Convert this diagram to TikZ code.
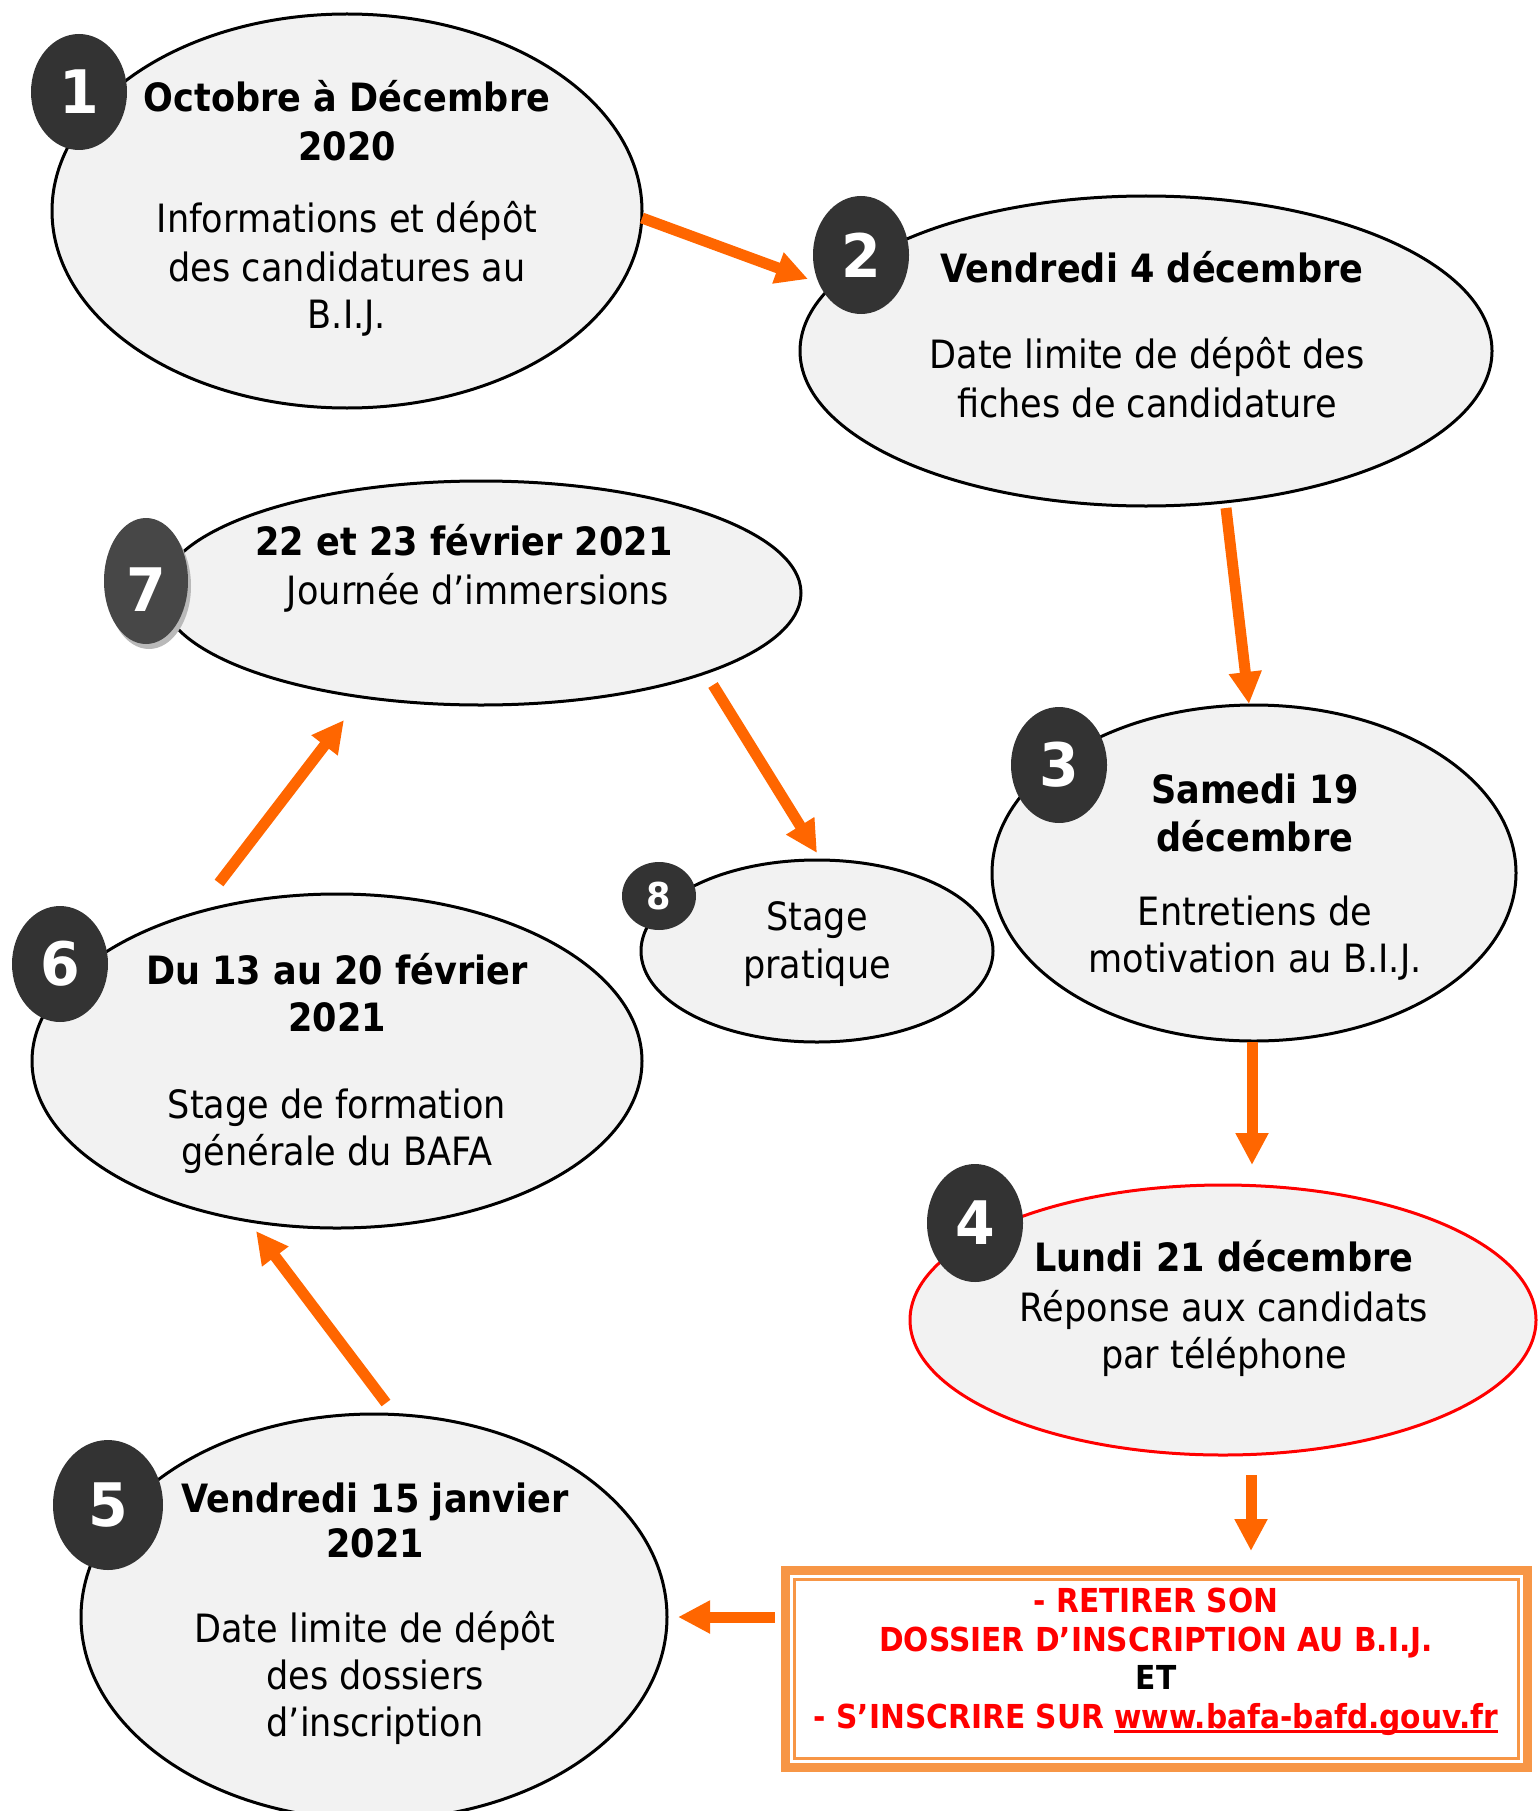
\documentclass[tikz,border=0pt]{standalone}
\usepackage{fontspec}
\setmainfont{DejaVu Sans}[FakeStretch=0.9]
\newfontfamily\digitfont{DejaVu Sans}[FakeStretch=0.95]
\usetikzlibrary{shapes.geometric,arrows.meta}
\definecolor{ellfill}{HTML}{F2F2F2}
\definecolor{badgegray}{HTML}{333333}
\definecolor{arrorange}{HTML}{FF6600}
\definecolor{boxorange}{HTML}{F79646}
\definecolor{txtred}{HTML}{FF0000}
\newcommand\bafaul[1]{\setbox0=\hbox{#1}\rlap{\rule[-5pt]{\wd0}{3pt}}\box0}
\begin{document}
\begin{tikzpicture}[x=1pt,y=-1pt,
  ell/.style={ellipse,draw=black,line width=3pt,fill=ellfill,inner sep=0pt},
  bdg/.style={ellipse,fill=badgegray,inner sep=0pt,text=white,font=\digitfont\bfseries\fontsize{60}{60}\selectfont},
  ttl/.style={anchor=base,inner sep=0pt,font=\bfseries\fontsize{39}{48}\selectfont},
  bdy/.style={anchor=base,inner sep=0pt,font=\fontsize{39}{48}\selectfont},
  boxt/.style={anchor=base,inner sep=0pt,text=txtred,font=\bfseries\fontsize{33}{39}\selectfont},
  arr/.style={draw=arrorange,line width=11pt,-{Triangle[width=31pt,length=32pt]}}
]
\useasboundingbox (0,0) rectangle (1538,1811);
\fill[white] (0,0) rectangle (1538,1811);

% ellipses
\node[ell,minimum width=590pt,minimum height=394pt] (e1) at (347,211) {};
\node[ell,minimum width=692pt,minimum height=310pt] (e2) at (1146,351) {};
\node[ell,minimum width=640pt,minimum height=224pt] (e7) at (481,593) {};
\node[ell,minimum width=524pt,minimum height=336pt] (e3) at (1254,873) {};
\node[ell,minimum width=352pt,minimum height=182pt] (e8) at (817,951) {};
\node[ell,minimum width=610pt,minimum height=334pt] (e6) at (337,1061) {};
\node[ell,draw=txtred,minimum width=626pt,minimum height=270pt] (e4) at (1223,1320) {};
\node[ell,minimum width=586pt,minimum height=406pt] (e5) at (374,1617) {};

% badges
\node[bdg,minimum width=96pt,minimum height=116pt] (b1) at (79,92) {1};
\node[bdg,minimum width=96pt,minimum height=118pt] (b2) at (861,255) {2};
\node[bdg,minimum width=96pt,minimum height=116pt] (b3) at (1059,765) {3};
\node[bdg,minimum width=96pt,minimum height=118pt] (b4) at (975,1223) {4};
\node[bdg,minimum width=110pt,minimum height=130pt] (b5) at (108,1505) {5};
\node[bdg,minimum width=96pt,minimum height=116pt] (b6) at (60,964) {6};
\node[ellipse,fill=gray!55,inner sep=0pt,minimum width=84pt,minimum height=126pt] (b7s) at (149,586) {};
\node[bdg,fill=badgegray!90!white,minimum width=84pt,minimum height=126pt] (b7) at (146,581) {\raisebox{-9pt}[\height][0pt]{7}};
\node[bdg,minimum width=74pt,minimum height=68pt,font=\digitfont\bfseries\fontsize{37}{37}\selectfont] (b8) at (659,896) {8};

% texts
\node[ttl] (t1a) at (347,112) {Octobre à Décembre};
\node[ttl] (t1b) at (347,161) {2020};
\node[bdy] (t1c) at (347,233) {Informations et dépôt};
\node[bdy] (t1d) at (347,281) {des candidatures au};
\node[bdy] (t1e) at (347,328) {B.I.J.};

\node[ttl] (t2a) at (1152,283) {Vendredi 4 décembre};
\node[bdy] (t2b) at (1147,368) {Date limite de dépôt des};
\node[bdy] (t2c) at (1147,417) {fiches de candidature};

\node[ttl] (t7a) at (464,555) {22 et 23 février 2021};
\node[bdy] (t7b) at (478,604) {Journée d’immersions};

\node[ttl] (t3a) at (1255,803) {Samedi 19};
\node[ttl] (t3b) at (1255,851) {décembre};
\node[bdy] (t3c) at (1255,925) {Entretiens de};
\node[bdy] (t3d) at (1255,972) {motivation au B.I.J.};

\node[bdy] (t8a) at (817,930) {Stage};
\node[bdy] (t8b) at (817,978) {pratique};

\node[ttl] (t6a) at (337,984) {Du 13 au 20 février};
\node[ttl] (t6b) at (337,1031) {2021};
\node[bdy] (t6c) at (337,1118) {Stage de formation};
\node[bdy] (t6d) at (337,1165) {générale du BAFA};

\node[ttl] (t4a) at (1224,1271) {Lundi 21 décembre};
\node[bdy] (t4b) at (1224,1321) {Réponse aux candidats};
\node[bdy] (t4c) at (1224,1368) {par téléphone};

\node[ttl] (t5a) at (375,1512) {Vendredi 15 janvier};
\node[ttl] (t5b) at (375,1557) {2021};
\node[bdy] (t5c) at (375,1642) {Date limite de dépôt};
\node[bdy] (t5d) at (375,1689) {des dossiers};
\node[bdy] (t5e) at (375,1736) {d’inscription};

% box
\node[draw=boxorange,line width=9pt,fill=white,minimum width=742pt,minimum height=197pt,inner sep=0pt] (box) at (1156.5,1669) {};
\node[draw=boxorange,line width=3pt,minimum width=724pt,minimum height=179pt,inner sep=0pt] (boxin) at (1156.5,1669) {};
\node[boxt] (x1) at (1156,1612) {- RETIRER SON};
\node[boxt] (x2) at (1156,1651) {DOSSIER D’INSCRIPTION AU B.I.J.};
\node[boxt,text=black] (x3) at (1156,1689) {ET};
\node[boxt] (x4) at (1156,1728) {- S’INSCRIRE SUR \bafaul{www.bafa-bafd.gouv.fr}};

% arrows
\coordinate (a12s) at (642,218);
\coordinate (a12e) at (808,279);
\coordinate (a23s) at (1226,508);
\coordinate (a23e) at (1249,704);
\coordinate (a34s) at (1252,1042);
\coordinate (a34e) at (1252,1165);
\coordinate (a4bs) at (1251,1475);
\coordinate (a4be) at (1251,1551);
\coordinate (ab5s) at (775,1617);
\coordinate (ab5e) at (678,1617);
\coordinate (a56s) at (386,1403);
\coordinate (a56e) at (256,1231);
\coordinate (a67s) at (219,883);
\coordinate (a67e) at (344,720);
\coordinate (a78s) at (713,685);
\coordinate (a78e) at (817,853);
\draw[arr] (a12s) -- (a12e);
\draw[arr] (a23s) -- (a23e);
\draw[arr] (a34s) -- (a34e);
\draw[arr] (a4bs) -- (a4be);
\draw[arr] (ab5s) -- (ab5e);
\draw[arr] (a56s) -- (a56e);
\draw[arr] (a67s) -- (a67e);
\draw[arr] (a78s) -- (a78e);
\end{tikzpicture}
\end{document}
